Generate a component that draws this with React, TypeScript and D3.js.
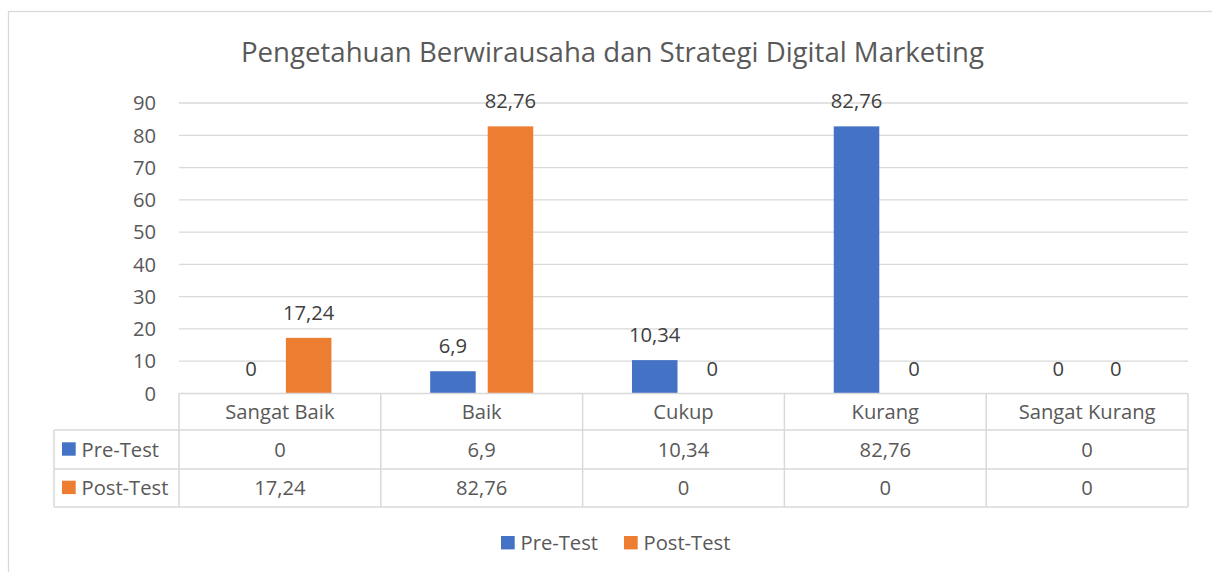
import React from "react";
import * as d3 from "d3";

const categories = ["Sangat Baik", "Baik", "Cukup", "Kurang", "Sangat Kurang"];
const seriesNames = ["Pre-Test", "Post-Test"];
const preTest = [0, 6.9, 10.34, 82.76, 0];
const postTest = [17.24, 82.76, 0, 0, 0];
const yTicks = [0, 10, 20, 30, 40, 50, 60, 70, 80, 90];
const colors = ["#4472C4", "#ED7D31"];
const title = "Pengetahuan Berwirausaha dan Strategi Digital Marketing";

const fmt = (v: number) => String(v).replace(".", ",");

export default function App() {
  const W = 1212, H = 572;
  const plotL = 179, plotR = 1188, plotT = 103, plotB = 393.5;
  const font = "'Open Sans', 'Noto Sans', sans-serif";
  const grid = "#D9D9D9";
  const txt = "#595959";
  const lbl = "#404040";
  const fs = 20.2;

  const x = d3.scaleBand<string>().domain(categories).range([plotL, plotR]).padding(0);
  const y = d3.scaleLinear().domain([0, 90]).range([plotB, plotT]);
  const bw = x.bandwidth();
  const barW = bw * 0.2256;
  const gap = bw * 0.0595;
  const groupW = barW * 2 + gap;
  const series = [preTest, postTest];

  const rowTop = [plotB, 430, 469, 507];
  const tableL = 54;

  return (
    <svg width={W} height={H} style={{ position: "absolute", left: 0, top: 0 }} fontFamily={font}>
      <rect x={0} y={0} width={W} height={H} fill="#fff" />
      <rect x={8.5} y={11.5} width={1210} height={570} fill="none" stroke={grid} strokeWidth={1.3} />
      <text x={612.5} y={62} textAnchor="middle" fontSize={27.6} fill={txt}>{title}</text>

      {yTicks.map((t) => (
        <g key={t}>
          {t > 0 && <line x1={plotL} x2={plotR} y1={y(t)} y2={y(t)} stroke={grid} strokeWidth={1.3} />}
          <text x={156} y={y(t)} dy="0.36em" textAnchor="end" fontSize={fs} fill={txt}>{t}</text>
        </g>
      ))}

      {series.map((vals, si) =>
        vals.map((v, ci) => {
          const cx = (x(categories[ci]) as number) + bw / 2 - groupW / 2 + si * (barW + gap);
          return (
            <g key={`${si}-${ci}`}>
              {v > 0 && (
                <rect x={cx} y={y(v)} width={barW} height={plotB - y(v)} fill={colors[si]} />
              )}
              <text x={cx + barW / 2} y={y(v) - 18} textAnchor="middle" fontSize={fs} fill={lbl}>{fmt(v)}</text>
            </g>
          );
        })
      )}

      {/* data table */}
      <g stroke={grid} strokeWidth={1.5} fill="none">
        <line x1={plotL} x2={plotR} y1={rowTop[0]} y2={rowTop[0]} />
        {rowTop.slice(1).map((ry, i) => (
          <line key={i} x1={tableL} x2={plotR} y1={ry} y2={ry} />
        ))}
        <line x1={tableL} x2={tableL} y1={rowTop[1]} y2={rowTop[3]} />
        {categories.map((c) => (
          <line key={c} x1={x(c) as number} x2={x(c) as number} y1={rowTop[0]} y2={rowTop[3]} />
        ))}
        <line x1={plotR} x2={plotR} y1={rowTop[0]} y2={rowTop[3]} />
      </g>
      {categories.map((c) => (
        <text key={c} x={(x(c) as number) + bw / 2} y={419} textAnchor="middle" fontSize={fs} fill={txt}>{c}</text>
      ))}
      {series.map((vals, si) => (
        <g key={si}>
          <rect x={62} y={442.3 + si * 38.4} width={13.7} height={13.4} fill={colors[si]} />
          <text x={81.5} y={456.5 + si * 38} fontSize={fs} fill={txt}>{seriesNames[si]}</text>
          {vals.map((v, ci) => (
            <text key={ci} x={(x(categories[ci]) as number) + bw / 2} y={456.5 + si * 38} textAnchor="middle" fontSize={fs} fill={txt}>{fmt(v)}</text>
          ))}
        </g>
      ))}

      {/* legend */}
      {seriesNames.map((n, i) => {
        const lx = [501, 624][i];
        return (
          <g key={n}>
            <rect x={lx} y={536} width={13.7} height={13.4} fill={colors[i]} />
            <text x={lx + 19.5} y={550} fontSize={fs} fill={txt}>{n}</text>
          </g>
        );
      })}
    </svg>
  );
}
